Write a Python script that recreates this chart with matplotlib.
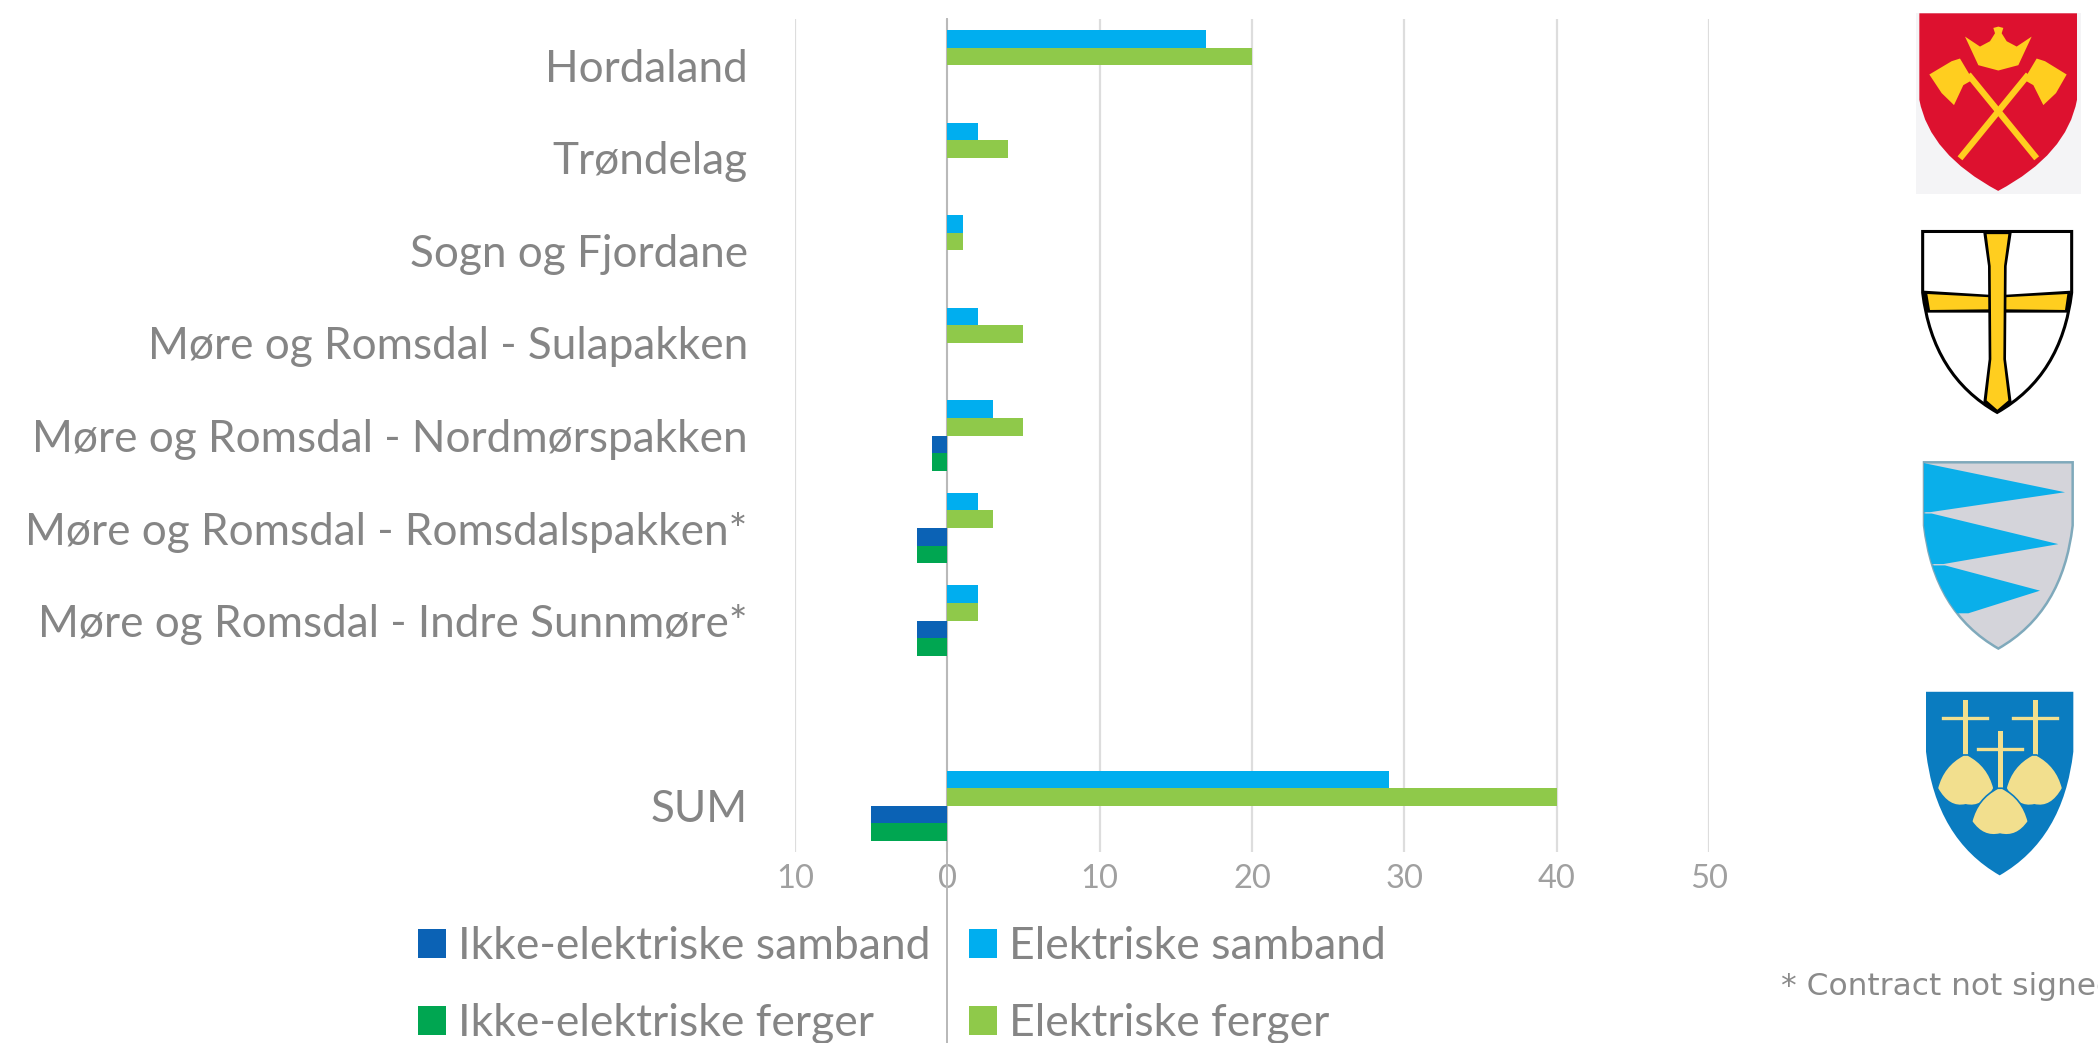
import numpy as np
from matplotlib import pyplot as plt
from matplotlib.path import Path
from matplotlib.patches import PathPatch, Polygon, Rectangle

W, H = 2098, 1043

categories = ["Hordaland", "Trøndelag", "Sogn og Fjordane", "Møre og Romsdal - Sulapakken",
              "Møre og Romsdal - Nordmørspakken", "Møre og Romsdal - Romsdalspakken*",
              "Møre og Romsdal - Indre Sunnmøre*", "", "SUM"]
el_samband = [17, 2, 1, 2, 3, 2, 2, 0, 29]
el_ferger = [20, 4, 1, 5, 5, 3, 2, 0, 40]
ikke_samband = [0, 0, 0, 0, 1, 2, 2, 0, 5]
ikke_ferger = [0, 0, 0, 0, 1, 2, 2, 0, 5]
x_ticks = [-10, 0, 10, 20, 30, 40, 50]

plt.rcParams["font.family"] = ["Lato", "DejaVu Sans"]
GREY = "#858585"

fig = plt.figure(figsize=(W / 100, H / 100), dpi=100, facecolor="white")
ax = fig.add_axes([795 / W, 1 - 852 / H, (1709 - 795) / W, (852 - 19) / H])

y = np.arange(len(categories))
h = 0.19
ax.barh(y - 1.5 * h, el_samband, h, color="#00AEEF", label="Elektriske samband", zorder=3)
ax.barh(y - 0.5 * h, el_ferger, h, color="#8FC94A", label="Elektriske ferger", zorder=3)
ax.barh(y + 0.5 * h, -np.array(ikke_samband), h, color="#0B62B5", label="Ikke-elektriske samband", zorder=3)
ax.barh(y + 1.5 * h, -np.array(ikke_ferger), h, color="#00A651", label="Ikke-elektriske ferger", zorder=3)

ax.set_xlim(-10, 50)
ax.set_ylim(8.5, -0.5)
ax.set_xticks(x_ticks)
ax.set_xticklabels([str(abs(v)) for v in x_ticks], fontsize=23.5, color="#a0a0a0")
ax.set_yticks(y)
ax.set_yticklabels(categories, fontsize=31.8, color=GREY)
ax.tick_params(axis="x", length=0, pad=9)
ax.tick_params(axis="y", length=0, pad=34)
ax.grid(axis="x", color="#dddddd", linewidth=1.6, zorder=0)
ax.set_axisbelow(True)
for s in ax.spines.values():
    s.set_visible(False)

# nullinja går helt ned gjennom legenden
ax.axvline(0, ymin=-0.23, ymax=1, color="#b8b8b8", linewidth=1.4, clip_on=False, zorder=2)

hs, ls = ax.get_legend_handles_labels()
order = [2, 3, 0, 1]
ax.legend([hs[i] for i in order], [ls[i] for i in order], ncol=2, frameon=False,
          loc="upper left", bbox_to_anchor=(-0.413, -0.089), fontsize=32, labelcolor=GREY,
          handlelength=0.63, handleheight=0.63, handletextpad=0.27, columnspacing=0.87,
          labelspacing=0.81, borderpad=0, borderaxespad=0)

fig.text(1781 / W, 1 - 995 / H, "* Contract not signed", fontsize=22.5, color="#8a8a8a",
         family="DejaVu Sans", va="baseline", ha="left")

# våpenskjold, tegnet i koordinatene til utsnittet av høyre marg
arms = fig.add_axes([1750 / W, 0, 348 / W, 1], facecolor="none")
arms.set_xlim(0, 1044)
arms.set_ylim(1568, 0)
arms.axis("off")


def shield(x0, x1, top, side, bottom, **kw):
    xm = (x0 + x1) / 2
    verts = [(x0, top), (x1, top), (x1, side), (x1 - 30, bottom - 55), (xm, bottom),
             (x0 + 30, bottom - 55), (x0, side), (x0, top)]
    codes = [Path.MOVETO, Path.LINETO, Path.LINETO, Path.CURVE3, Path.CURVE3,
             Path.CURVE3, Path.CURVE3, Path.CLOSEPOLY]
    p = PathPatch(Path(verts, codes), **kw)
    arms.add_patch(p)
    return p


def poly(pts, color, clip=None, z=3):
    p = Polygon(pts, closed=True, facecolor=color, edgecolor="none", zorder=z)
    arms.add_patch(p)
    if clip is not None:
        p.set_clip_path(clip)
    return p


# Hordaland
YEL = "#FFCE1F"
arms.add_patch(Rectangle((498, 20), 495, 272, facecolor="#f4f4f6", edgecolor="none", zorder=1))
shield(508, 981, 20, 150, 287, facecolor="#DD112F", edgecolor="none", zorder=2)
arms.plot([630, 835], [238, 112], color=YEL, lw=4.5, zorder=3, solid_capstyle="butt")
arms.plot([860, 655], [238, 112], color=YEL, lw=4.5, zorder=3, solid_capstyle="butt")
poly([(538, 112), (605, 92), (630, 88), (668, 120), (640, 128), (612, 158), (575, 140)], YEL)
poly([(950, 112), (885, 92), (860, 88), (822, 120), (850, 128), (880, 158), (918, 140)], YEL)
poly([(645, 55), (690, 70), (720, 62), (735, 50), (730, 42), (745, 40), (760, 42), (755, 50),
      (770, 62), (800, 70), (845, 55), (805, 98), (745, 106), (685, 98)], YEL)

# Trøndelag
tr = shield(518, 965, 348, 440, 620, facecolor="white", edgecolor="black", linewidth=2.2, zorder=2)
poly([(522, 437), (715, 443), (770, 443), (962, 437), (962, 470), (770, 470), (715, 470), (522, 470)], "black", clip=tr)
poly([(532, 442), (725, 447), (760, 447), (952, 442), (945, 466), (760, 465), (725, 465), (540, 466)], YEL, clip=tr)
poly([(700, 350), (785, 350), (770, 400), (768, 540), (785, 605), (742, 622), (700, 605), (716, 540), (714, 400)], "black", clip=tr)
poly([(710, 352), (775, 352), (762, 400), (760, 540), (775, 602), (742, 616), (710, 602), (724, 540), (722, 400)], YEL, clip=tr)

# Sogn og Fjordane
sf = shield(522, 968, 695, 790, 975, facecolor="#D4D4DA", edgecolor="#7FA9BB", linewidth=1.8, zorder=2)
CY = "#0AAFEA"
poly([(510, 695), (945, 740), (540, 770), (510, 770)], CY, clip=sf)
poly([(510, 772), (545, 772), (925, 818), (580, 848), (510, 848)], CY, clip=sf)
poly([(510, 850), (585, 850), (870, 888), (655, 922), (510, 922)], CY, clip=sf)

# Møre og Romsdal
mr = shield(528, 970, 1040, 1130, 1316, facecolor="#0A7CC0", edgecolor="none", zorder=2)
CREAM = "#F2DF8E"


def bell(xc, top, bottom, half, z):
    verts = [(xc - 7, top), (xc - half * 0.8, top + 16), (xc - half, top + 50),
             (xc - half * 0.6, bottom + 6), (xc, bottom),
             (xc + half * 0.6, bottom + 6), (xc + half, top + 50),
             (xc + half * 0.8, top + 16), (xc + 7, top), (xc - 7, top)]
    codes = [Path.MOVETO, Path.CURVE3, Path.CURVE3, Path.CURVE3, Path.CURVE3, Path.CURVE3,
             Path.CURVE3, Path.CURVE3, Path.CURVE3, Path.CLOSEPOLY]
    arms.add_patch(PathPatch(Path(verts, codes), facecolor=CREAM, edgecolor="#0A7CC0", linewidth=1.2, zorder=z))


for xc, y_h, y0, y1 in [(645, 1080, 1056, 1150), (855, 1080, 1056, 1150), (750, 1126, 1102, 1200)]:
    arms.plot([xc, xc], [y0, y1], color=CREAM, lw=3.6, zorder=3)
    arms.plot([xc - 65, xc + 65], [y_h, y_h], color=CREAM, lw=2.4, zorder=3)
bell(647, 1135, 1210, 85, 3)
bell(853, 1135, 1210, 85, 3)
bell(750, 1185, 1254, 85, 4)

fig.savefig("out.png", dpi=100)
